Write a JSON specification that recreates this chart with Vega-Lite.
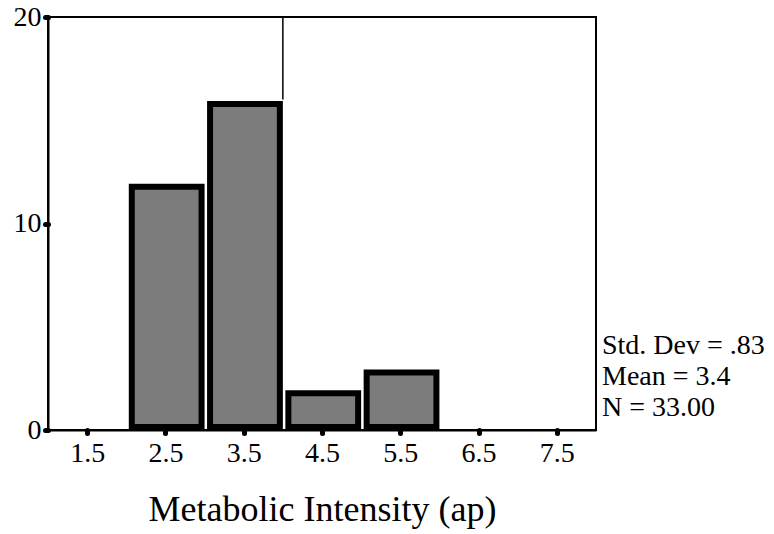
{
  "$schema": "https://vega.github.io/schema/vega-lite/v6.json",
  "autosize": {"type": "none"},
  "padding": {"left": 48, "top": 17, "right": 178, "bottom": 104},
  "width": 548,
  "height": 413,
  "background": "white",
  "config": {
    "view": {"stroke": "black", "strokeWidth": 2},
    "font": "Liberation Serif",
    "axis": {
      "grid": false,
      "domainColor": "black",
      "domainWidth": 2,
      "tickColor": "black",
      "labelColor": "black",
      "titleColor": "black",
      "labelFont": "Liberation Serif",
      "titleFont": "Liberation Serif",
      "titleFontWeight": "normal",
      "tickCap": "round",
      "tickWidth": 5,
      "tickSize": 3
    }
  },
  "layer": [
    {
      "data": {
        "values": [
          {"bin_start": 2, "bin_end": 3, "count": 12},
          {"bin_start": 3, "bin_end": 4, "count": 16},
          {"bin_start": 4, "bin_end": 5, "count": 2},
          {"bin_start": 5, "bin_end": 6, "count": 3}
        ]
      },
      "mark": {
        "type": "bar",
        "fill": "#7c7c7c",
        "stroke": "black",
        "strokeWidth": 6,
        "strokeJoin": "miter",
        "xOffset": 5.5,
        "x2Offset": -3,
        "yOffset": 4.5,
        "y2Offset": -3
      },
      "encoding": {
        "x": {
          "field": "bin_start",
          "type": "quantitative",
          "scale": {"domain": [1, 8], "nice": false, "zero": false},
          "axis": {
            "values": [1.5, 2.5, 3.5, 4.5, 5.5, 6.5, 7.5],
            "format": ".1f",
            "labelFontSize": 28,
            "labelPadding": 6,
            "title": "Metabolic Intensity (ap)",
            "titleFontSize": 36,
            "titleBaseline": "alphabetic",
            "titleY": 90
          }
        },
        "x2": {"field": "bin_end"},
        "y": {
          "field": "count",
          "type": "quantitative",
          "scale": {"domain": [0, 20], "nice": false},
          "axis": {
            "values": [0, 10, 20],
            "labelFontSize": 28,
            "labelPadding": 4,
            "title": null
          }
        },
        "y2": {"datum": 0}
      }
    },
    {
      "data": {"values": [{"x": 4, "y": 16, "y2": 20}]},
      "mark": {"type": "rule", "stroke": "black", "strokeWidth": 1.5},
      "encoding": {
        "x": {"field": "x", "type": "quantitative"},
        "y": {"field": "y", "type": "quantitative"},
        "y2": {"field": "y2"}
      }
    },
    {
      "data": {"values": [{"stats": ["Std. Dev = .83", "Mean = 3.4", "N = 33.00"]}]},
      "mark": {
        "type": "text",
        "align": "left",
        "baseline": "alphabetic",
        "dx": 6,
        "dy": -76,
        "lineHeight": 31,
        "fontSize": 28,
        "font": "Liberation Serif",
        "color": "black"
      },
      "encoding": {
        "text": {"field": "stats"},
        "x": {"datum": 8, "type": "quantitative"},
        "y": {"datum": 0, "type": "quantitative"}
      }
    }
  ]
}
